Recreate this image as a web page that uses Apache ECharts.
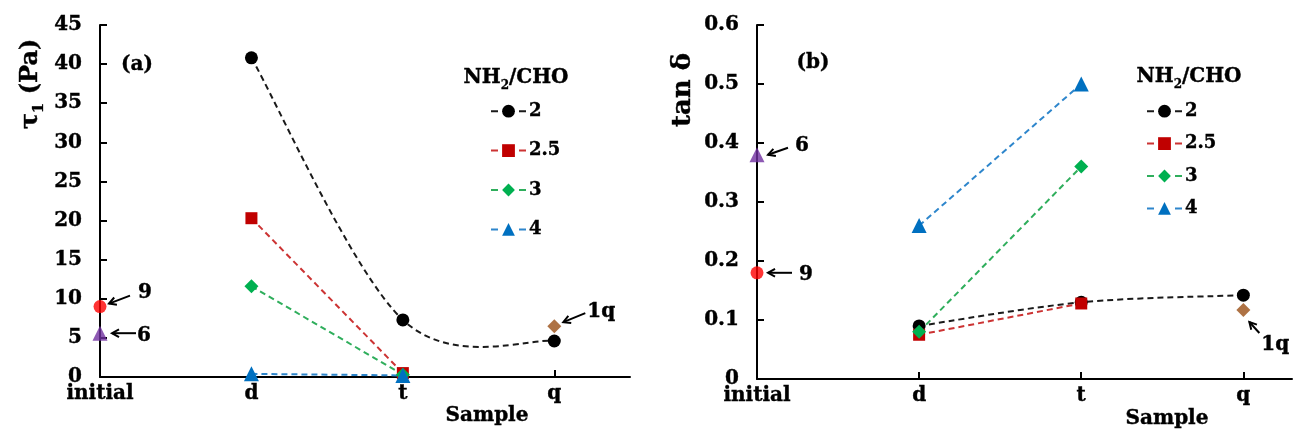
<!DOCTYPE html>
<html>
<head>
<meta charset="utf-8">
<script src="https://cdn.jsdelivr.net/npm/echarts@6/dist/echarts.min.js"></script>
<style>html,body{margin:0;padding:0;background:#fff}#c{width:1293px;height:432px}</style>
</head>
<body>
<div id="c"></div>
<script>
// ---------- data ----------
const categories = ['initial', 'd', 't', 'q'];
const seriesNames = ['2', '2.5', '3', '4'];
// panel (a): tau_1 (Pa)
const tauR2  = [null, 40.8, 7.3, 4.6];
const tauR25 = [null, 20.3, 0.5, null];
const tauR3  = [null, 11.6, 0.3, null];
const tauR4  = [null, 0.4, 0.2, null];
const tauP9  = [9.0, null, null, null];
const tauP6  = [5.6, null, null, null];
const tauP1q = [null, null, null, 6.5];
// panel (b): tan delta
const tanR2  = [null, 0.09, 0.13, 0.142];
const tanR25 = [null, 0.075, 0.128, null];
const tanR3  = [null, 0.08, 0.36, null];
const tanR4  = [null, 0.26, 0.5, null];
const tanP6  = [0.38, null, null, null];
const tanP9  = [0.18, null, null, null];
const tanP1q = [null, null, null, 0.117];
const yTicksA = [0, 45, 5];
const yTicksB = [0, 0.6, 0.1];

// ---------- style ----------
const FONT = 'DejaVu Serif';
const TB = {textBorderColor: '#000', textBorderWidth: 0.4};
const styles = {
  '2':   {symbol: 'circle',   size: 13, color: '#000000', line: '#1a1a1a'},
  '2.5': {symbol: 'rect',     size: 12, color: '#c00000', line: '#cc3333'},
  '3':   {symbol: 'diamond',  size: 14, color: '#00b050', line: '#2fae5c'},
  '4':   {symbol: 'triangle', size: 15, color: '#0070c0', line: '#2e86cc'}
};
const toData = arr => arr.map((v, i) => [i, v]).filter(d => d[1] != null);

function lineSeries(name, grid, values, hideLine) {
  const s = styles[name];
  return {
    name, type: 'line', xAxisIndex: grid, yAxisIndex: grid,
    data: toData(values),
    symbol: s.symbol, symbolSize: s.size, showSymbol: true,
    itemStyle: {color: s.color},
    lineStyle: {color: s.line, width: 2, type: [6, 4], opacity: hideLine ? 0 : 1},
    z: 3
  };
}
// smoothed (spreadsheet-style Bezier) connecting line, drawn through the axes via api.coord
function smoothPath(pts) {
  let d = `M${pts[0][0]},${pts[0][1]}`;
  for (let i = 0; i < pts.length - 1; i++) {
    const p0 = pts[i - 1] || pts[i], p1 = pts[i], p2 = pts[i + 1], p3 = pts[i + 2] || pts[i + 1];
    const c1 = [p1[0] + (p2[0] - p0[0]) / 6, p1[1] + (p2[1] - p0[1]) / 6];
    const c2 = [p2[0] - (p3[0] - p1[0]) / 6, p2[1] - (p3[1] - p1[1]) / 6];
    d += ` C${c1[0]},${c1[1]} ${c2[0]},${c2[1]} ${p2[0]},${p2[1]}`;
  }
  return d;
}
function smoothSeries(grid, values, color) {
  const data = toData(values);
  return {
    type: 'custom', xAxisIndex: grid, yAxisIndex: grid, data, z: 2, silent: true,
    renderItem: (params, api) => {
      if (params.dataIndex !== 0) return null;
      const pts = data.map(p => api.coord(p));
      return {type: 'path', shape: {pathData: smoothPath(pts)},
        style: {stroke: color, lineWidth: 2, lineDash: [6, 4], fill: null}};
    }
  };
}
function pointSeries(name, grid, values, symbol, size, color) {
  return {
    name, type: 'scatter', xAxisIndex: grid, yAxisIndex: grid,
    data: toData(values), symbol, symbolSize: size,
    itemStyle: {color}, z: 4
  };
}
function xAxis(grid, max) {
  return {
    type: 'value', gridIndex: grid, min: 0, max, interval: 1,
    splitLine: {show: false},
    axisLine: {lineStyle: {color: '#000', width: 2}},
    axisTick: {inside: true, length: 7, lineStyle: {color: '#000', width: 2}, customValues: [1, 2, 3]},
    axisLabel: Object.assign({customValues: [0, 1, 2, 3], formatter: v => categories[Math.round(v)] || '',
      color: '#000', fontFamily: FONT, fontWeight: 'bold', fontSize: 20, margin: 7}, TB)
  };
}
function yAxis(grid, t) {
  return {
    type: 'value', gridIndex: grid, min: t[0], max: t[1], interval: t[2],
    splitLine: {show: false},
    axisLine: {show: true, lineStyle: {color: '#000', width: 2}},
    axisTick: {show: true, inside: true, length: 7, lineStyle: {color: '#000', width: 2}},
    axisLabel: Object.assign({color: '#000', fontFamily: FONT, fontWeight: 'bold', fontSize: 20, margin: 18}, TB)
  };
}
function legend(left, gap) {
  return {
    orient: 'vertical', left, top: 97, itemWidth: 35, itemHeight: 16, itemGap: gap,
    data: seriesNames, selectedMode: false,
    lineStyle: {width: 2, opacity: 1, type: [7, 21]},
    textStyle: Object.assign({color: '#000', fontFamily: FONT, fontWeight: 'bold', fontSize: 18, lineHeight: 18, padding: [0, 0, 0, -2]}, TB)
  };
}
const bold = (size, extra) => Object.assign({fontFamily: FONT, fontWeight: 'bold', fontSize: size, fill: '#000', stroke: '#000', lineWidth: 0.4}, extra || {});
function richText(x, y, text, rich, rotation) {
  return {type: 'text', x, y, rotation: rotation || 0, z: 10,
    style: {text, rich, textAlign: 'center', textVerticalAlign: 'middle', fill: '#000', fontFamily: FONT, fontWeight: 'bold'}};
}
const subRich = size => ({
  a: {fontFamily: FONT, fontWeight: 'bold', fontSize: size, lineHeight: size + 8, fill: '#000', stroke: '#000', lineWidth: 0.4},
  s: {fontFamily: FONT, fontWeight: 'bold', fontSize: Math.round(size * 0.62), lineHeight: Math.round(size * 0.62), verticalAlign: 'bottom', fill: '#000', stroke: '#000', lineWidth: 0.3}
});

const staticGraphics = [
  richText(31, 84, '{a|τ}{s|1}{a| (Pa)}', subRich(24), Math.PI / 2),
  richText(683, 90, '{a|tan δ}', subRich(26), Math.PI / 2),
  {type: 'text', x: 137, y: 65, style: bold(20, {text: '(a)', textAlign: 'center', textVerticalAlign: 'middle'})},
  {type: 'text', x: 813, y: 63, style: bold(20, {text: '(b)', textAlign: 'center', textVerticalAlign: 'middle'})},
  richText(516, 78, '{a|NH}{s|2}{a|/CHO}', subRich(20)),
  richText(1189, 77, '{a|NH}{s|2}{a|/CHO}', subRich(20)),
  {type: 'text', x: 487, y: 416, style: bold(20, {text: 'Sample', textAlign: 'center', textVerticalAlign: 'middle'})},
  {type: 'text', x: 1167, y: 419, style: bold(20, {text: 'Sample', textAlign: 'center', textVerticalAlign: 'middle'})}
];

const chart = echarts.init(document.getElementById('c'), null, {renderer: 'canvas'});
const option = {
  animation: false,
  backgroundColor: '#fff',
  grid: [
    {left: 100, top: 25, width: 530, height: 352},
    {left: 757, top: 25, width: 535, height: 354}
  ],
  xAxis: [xAxis(0, 3.5), xAxis(1, 3.3)],
  yAxis: [yAxis(0, yTicksA), yAxis(1, yTicksB)],
  legend: [legend(485, 21), legend(1141, 14)],
  series: [
    smoothSeries(0, tauR2, styles['2'].line),
    lineSeries('2', 0, tauR2, true),
    lineSeries('2.5', 0, tauR25),
    lineSeries('3', 0, tauR3),
    lineSeries('4', 0, tauR4),
    pointSeries('9', 0, tauP9, 'circle', 13, '#ff0000'),
    pointSeries('6', 0, tauP6, 'triangle', 15, '#7030a0'),
    pointSeries('1q', 0, tauP1q, 'diamond', 14, '#9a4f15'),
    smoothSeries(1, tanR2, styles['2'].line),
    lineSeries('2', 1, tanR2, true),
    lineSeries('2.5', 1, tanR25),
    lineSeries('3', 1, tanR3),
    lineSeries('4', 1, tanR4),
    pointSeries('6', 1, tanP6, 'triangle', 15, '#7030a0'),
    pointSeries('9', 1, tanP9, 'circle', 13, '#ff0000'),
    pointSeries('1q', 1, tanP1q, 'diamond', 14, '#9a4f15')
  ],
  graphic: staticGraphics
};
chart.setOption(option);

// annotation arrows, anchored to points through the axes' scales
const annotations = [
  {grid: 0, pt: [0, tauP9[0]], tail: [30, -11], tip: [9, -3], label: '9', lab: [38, -14]},
  {grid: 0, pt: [0, tauP6[0]], tail: [36, 0], tip: [12, 0], label: '6', lab: [37, 3]},
  {grid: 0, pt: [3, tauP1q[3]], tail: [31, -13], tip: [9, -4], label: '1q', lab: [33, -14]},
  {grid: 1, pt: [0, tanP6[0]], tail: [31, -7], tip: [11, 0], label: '6', lab: [38, -9]},
  {grid: 1, pt: [0, tanP9[0]], tail: [35, 0], tip: [11, 0], label: '9', lab: [42, 2]},
  {grid: 1, pt: [3, tanP1q[3]], tail: [16, 23], tip: [6, 12], label: '1q', lab: [18, 35]}
];
const extra = [];
annotations.forEach(a => {
  const p = chart.convertToPixel({gridIndex: a.grid}, a.pt);
  const t0 = [p[0] + a.tail[0], p[1] + a.tail[1]];
  const t1 = [p[0] + a.tip[0], p[1] + a.tip[1]];
  const ang = Math.atan2(t0[1] - t1[1], t0[0] - t1[0]);
  const L = 8, w = 0.5;
  const h1 = [t1[0] + L * Math.cos(ang + w), t1[1] + L * Math.sin(ang + w)];
  const h2 = [t1[0] + L * Math.cos(ang - w), t1[1] + L * Math.sin(ang - w)];
  extra.push({type: 'polyline', z: 10, shape: {points: [t0, t1]}, style: {stroke: '#000', lineWidth: 2, fill: null}});
  extra.push({type: 'polyline', z: 10, shape: {points: [h1, t1, h2]}, style: {stroke: '#000', lineWidth: 2, fill: null}});
  extra.push({type: 'text', z: 10, x: p[0] + a.lab[0], y: p[1] + a.lab[1],
    style: bold(20, {text: a.label, textAlign: 'left', textVerticalAlign: 'middle'})});
});
chart.setOption({graphic: staticGraphics.concat(extra)}, {replaceMerge: ['graphic']});
</script>
</body>
</html>
